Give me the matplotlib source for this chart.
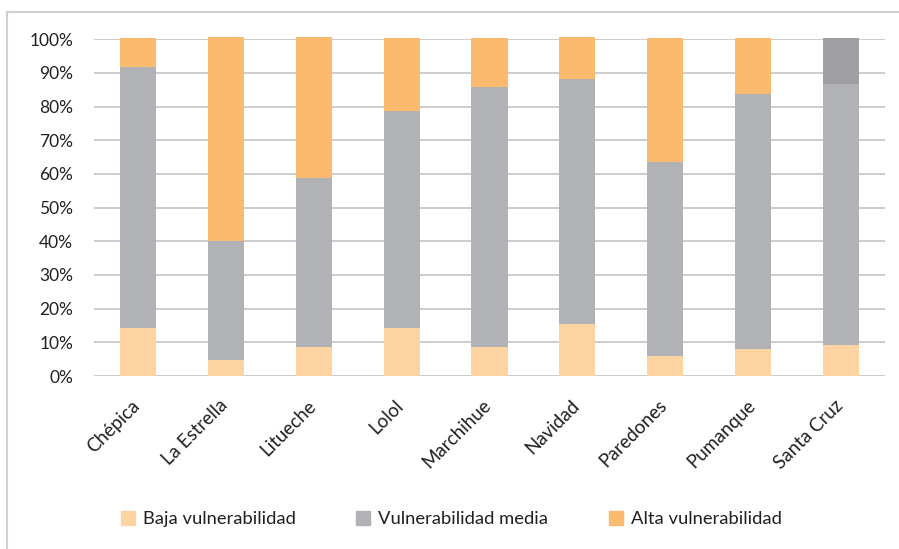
import matplotlib
matplotlib.use("Agg")
import matplotlib.pyplot as plt
import matplotlib.transforms as mtransforms
from matplotlib.lines import Line2D
from matplotlib.patches import Patch
import numpy as np

comunas = ["Chépica", "La Estrella", "Litueche", "Lolol", "Marchihue",
           "Navidad", "Paredones", "Pumanque", "Santa Cruz"]
baja = [14.3, 4.8, 8.6, 14.3, 8.6, 15.4, 5.9, 8.0, 9.2]
media = [77.5, 35.3, 50.2, 64.4, 77.2, 72.8, 57.7, 75.7, 77.5]
alta = [8.6, 60.6, 41.9, 21.7, 14.6, 12.5, 36.8, 16.7, 13.7]
series_labels = ["Baja vulnerabilidad", "Vulnerabilidad media", "Alta vulnerabilidad"]
yticks = [0, 10, 20, 30, 40, 50, 60, 70, 80, 90, 100]

c_baja = "#fcd3a1"
c_media = "#b1b2b6"
c_alta = "#fbba6e"
c_alta_sc = "#9f9fa3"
text_color = "#231f20"

plt.rcParams["font.family"] = ["Lato", "DejaVu Sans"]

fig = plt.figure(figsize=(8.99, 5.49), dpi=100)
ax = fig.add_axes([0.1046, 0.3151, 0.8798, 0.6133])

x = np.arange(len(comunas))
w = 0.41
b1 = np.array(baja)
b2 = b1 + np.array(media)
alta_colors = [c_alta_sc if c == "Santa Cruz" else c_alta for c in comunas]

ax.bar(x, baja, w, color=c_baja, zorder=3, clip_on=False)
ax.bar(x, media, w, bottom=b1, color=c_media, zorder=3, clip_on=False)
ax.bar(x, alta, w, bottom=b2, color=alta_colors, zorder=3, clip_on=False)

ax.set_xlim(-0.5, len(comunas) - 0.5)
ax.set_ylim(0, 100)
ax.set_yticks(yticks)
ax.set_yticklabels([f"{t}%" for t in yticks], fontsize=12.5, color=text_color)
ax.yaxis.grid(True, color="#c8c8c8", linewidth=1.3, zorder=0)
ax.set_axisbelow(True)
for s in ax.spines.values():
    s.set_visible(False)
ax.tick_params(axis="both", length=0)
ax.tick_params(axis="y", pad=15)

ax.set_xticks(x)
ax.set_xticklabels(comunas, rotation=45, ha="right", rotation_mode="anchor",
                   fontsize=13.5, color=text_color)
ax.tick_params(axis="x", pad=15)
shift = mtransforms.ScaledTranslation(-7 / 100, 0, fig.dpi_scale_trans)
for lbl in ax.get_xticklabels():
    lbl.set_transform(lbl.get_transform() + shift)

handles = [Patch(color=c_baja), Patch(color=c_media), Patch(color=c_alta)]
fig.legend(handles, series_labels, loc="center", bbox_to_anchor=(0.502, 0.054),
           ncol=3, frameon=False, fontsize=13.2, handlelength=0.75,
           handleheight=0.75, handletextpad=0.45, columnspacing=3.3,
           labelcolor=text_color)

# light frame around the figure (left and top edges)
fig.add_artist(Line2D([6.5 / 899, 6.5 / 899], [0, 1 - 12 / 549],
                      transform=fig.transFigure, color="#d0d0d0", linewidth=1.5))
fig.add_artist(Line2D([6.5 / 899, 1], [1 - 12 / 549, 1 - 12 / 549],
                      transform=fig.transFigure, color="#d0d0d0", linewidth=1.5))

fig.savefig("out.png", dpi=100)
